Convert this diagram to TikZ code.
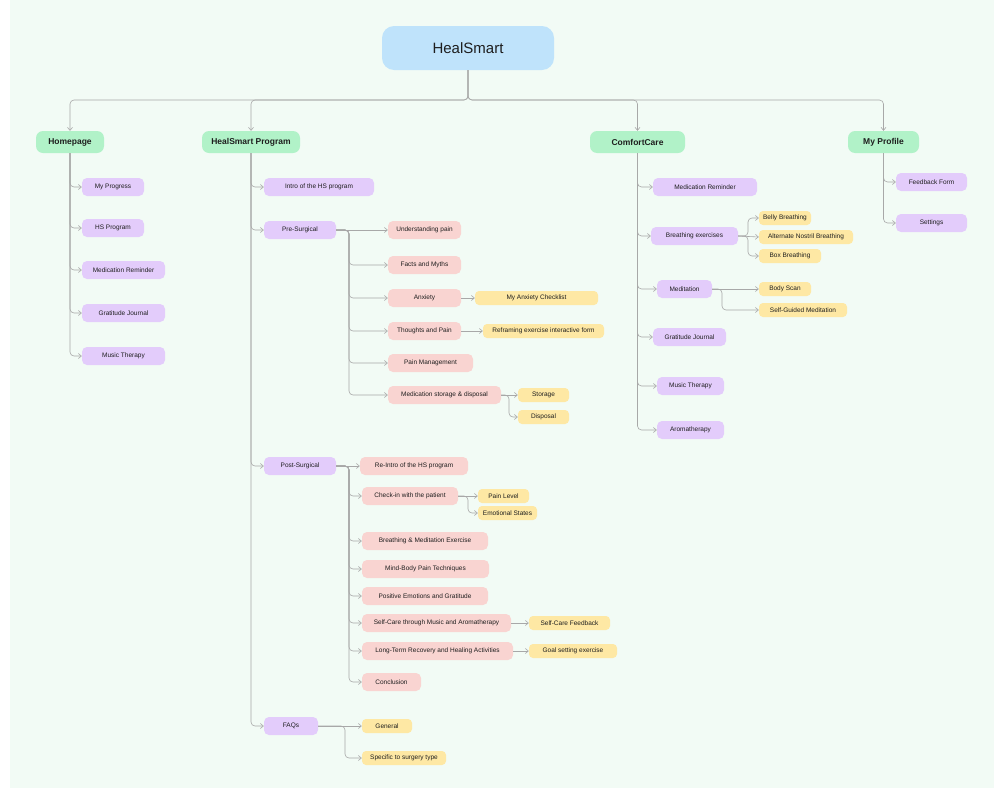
\documentclass[tikz,border=0pt]{standalone}
\usepackage{fontspec}
\setmainfont{Liberation Sans}
\usetikzlibrary{arrows.meta}
\definecolor{bg}{HTML}{F2FBF5}
\definecolor{cblue}{HTML}{BFE3FB}
\definecolor{cgreen}{HTML}{B1F2C8}
\definecolor{cpurple}{HTML}{E3CCFB}
\definecolor{cpink}{HTML}{F9D4D1}
\definecolor{cyellow}{HTML}{FEE8A4}
\definecolor{lin}{HTML}{A8A8A8}
\definecolor{txt}{HTML}{1E1E1E}
\tikzset{
 bx/.style={rounded corners=5pt,inner sep=0pt,minimum height=18pt,text=txt,font=\fontsize{6.5}{8}\selectfont},
 pur/.style={bx,fill=cpurple},
 pnk/.style={bx,fill=cpink},
 yel/.style={bx,fill=cyellow,minimum height=14pt,rounded corners=4pt},
 grn/.style={bx,fill=cgreen,minimum height=22pt,rounded corners=7pt,font=\fontsize{8.5}{10}\selectfont\bfseries},
 conn/.style={draw=lin,line width=0.6pt,rounded corners=4pt,-{Straight Barb[length=3pt,width=5pt]}},
}
\newcommand{\nd}[6]{\node[#2,minimum width={(#4-#3)*1pt}] (#1) at ({(#3+#4)/2},#5) {#6};}
\begin{document}
\begin{tikzpicture}[x=1pt,y=-1pt]
\useasboundingbox (0,0) rectangle (1003,790);
\fill[bg] (10,0) rectangle (994,788);
\node[bx,fill=cblue,minimum width=172pt,minimum height=44pt,rounded corners=12pt,font=\fontsize{15}{18}\selectfont] (root) at (468,48) {HealSmart};
\nd{home}{grn}{36}{104}{142}{Homepage}
\nd{hsp}{grn}{202}{300}{142}{HealSmart Program}
\nd{cc}{grn}{590}{685}{142}{ComfortCare}
\nd{prof}{grn}{848}{919}{142}{My Profile}
\coordinate (top) at (468,100);
\foreach \n in {home,hsp,cc,prof}{\draw[conn] (root.south) -- (top) -| (\n.north);}
% Homepage
\nd{h1}{pur}{82}{144}{187}{My Progress}
\nd{h2}{pur}{82}{144}{228}{HS Program}
\nd{h3}{pur}{82}{165}{270}{Medication Reminder}
\nd{h4}{pur}{82}{165}{313}{Gratitude Journal}
\nd{h5}{pur}{82}{165}{356}{Music Therapy}
\foreach \n in {h1,h2,h3,h4,h5}{\draw[conn] (home.south) |- (\n.west);}
% HealSmart Program
\nd{p1}{pur}{264}{374}{187}{Intro of the HS program}
\nd{pre}{pur}{264}{336}{230}{Pre-Surgical}
\nd{post}{pur}{264}{336}{466}{Post-Surgical}
\nd{faq}{pur}{264}{318}{726}{FAQs}
\foreach \n in {p1,pre,post,faq}{\draw[conn] (hsp.south) |- (\n.west);}
% Pre-surgical
\nd{a1}{pnk}{388}{461}{230}{Understanding pain}
\nd{a2}{pnk}{388}{461}{265}{Facts and Myths}
\nd{a3}{pnk}{388}{461}{298}{Anxiety}
\nd{a4}{pnk}{388}{461}{331}{Thoughts and Pain}
\nd{a5}{pnk}{388}{473}{363}{Pain Management}
\nd{a6}{pnk}{388}{501}{395}{Medication storage \& disposal}
\coordinate (ps) at (349,230);
\draw[conn] (pre.east) -- (a1.west);
\foreach \n in {a2,a3,a4,a5,a6}{\draw[conn] (pre.east) -- (ps) |- (\n.west);}
\nd{a3a}{yel}{475}{598}{298}{My Anxiety Checklist}
\nd{a4a}{yel}{483}{604}{331}{Reframing exercise interactive form}
\nd{a6a}{yel}{518}{569}{395}{Storage}
\nd{a6b}{yel}{518}{569}{417}{Disposal}
\draw[conn] (a3.east) -- (a3a.west);
\draw[conn] (a4.east) -- (a4a.west);
\draw[conn] (a6.east) -- (a6a.west);
\draw[conn] (a6.east) -- (509,395) |- (a6b.west);
% Post-surgical
\nd{b1}{pnk}{360}{468}{466}{Re-Intro of the HS program}
\nd{b2}{pnk}{362}{458}{496}{Check-in with the patient}
\nd{b3}{pnk}{362}{488}{541}{Breathing \& Meditation Exercise}
\nd{b4}{pnk}{362}{489}{569}{Mind-Body Pain Techniques}
\nd{b5}{pnk}{362}{488}{596}{Positive Emotions and Gratitude}
\nd{b6}{pnk}{362}{511}{623}{Self-Care through Music and Aromatherapy}
\nd{b7}{pnk}{362}{513}{651}{Long-Term Recovery and Healing Activities}
\nd{b8}{pnk}{362}{421}{682}{Conclusion}
\coordinate (qs) at (349,466);
\draw[conn] (post.east) -- (b1.west);
\foreach \n in {b2,b3,b4,b5,b6,b7,b8}{\draw[conn] (post.east) -- (qs) |- (\n.west);}
\nd{b2a}{yel}{478}{529}{496}{Pain Level}
\nd{b2b}{yel}{478}{537}{513}{Emotional States}
\nd{b6a}{yel}{529}{610}{623}{Self-Care Feedback}
\nd{b7a}{yel}{529}{617}{651}{Goal setting exercise}
\draw[conn] (b2.east) -- (b2a.west);
\draw[conn] (b2.east) -- (468,496) |- (b2b.west);
\draw[conn] (b6.east) -- (b6a.west);
\draw[conn] (b7.east) -- (b7a.west);
% FAQs
\nd{f1}{yel}{362}{412}{726}{General}
\nd{f2}{yel}{362}{446}{758}{Specific to surgery type}
\draw[conn] (faq.east) -- (f1.west);
\draw[conn] (faq.east) -- (345,726) |- (f2.west);
% ComfortCare
\nd{c1}{pur}{653}{757}{187}{Medication Reminder}
\nd{c2}{pur}{651}{738}{236}{Breathing exercises}
\nd{c3}{pur}{657}{712}{289}{Meditation}
\nd{c4}{pur}{653}{726}{337}{Gratitude Journal}
\nd{c5}{pur}{657}{724}{386}{Music Therapy}
\nd{c6}{pur}{657}{724}{430}{Aromatherapy}
\foreach \n in {c1,c2,c3,c4,c5,c6}{\draw[conn] (cc.south) |- (\n.west);}
\nd{c2a}{yel}{759}{811}{218}{Belly Breathing}
\nd{c2b}{yel}{759}{853}{237}{Alternate Nostril Breathing}
\nd{c2c}{yel}{759}{821}{256}{Box Breathing}
\draw[conn] (c2.east) -- (748,236) |- (c2a.west);
\draw[conn] (c2.east) -- (c2b.west);
\draw[conn] (c2.east) -- (748,236) |- (c2c.west);
\nd{c3a}{yel}{759}{811}{289}{Body Scan}
\nd{c3b}{yel}{759}{847}{310}{Self-Guided Meditation}
\draw[conn] (c3.east) -- (c3a.west);
\draw[conn] (c3.east) -- (722,289) |- (c3b.west);
% My Profile
\nd{m1}{pur}{896}{967}{182}{Feedback Form}
\nd{m2}{pur}{896}{967}{223}{Settings}
\foreach \n in {m1,m2}{\draw[conn] (prof.south) |- (\n.west);}
\end{tikzpicture}
\end{document}
